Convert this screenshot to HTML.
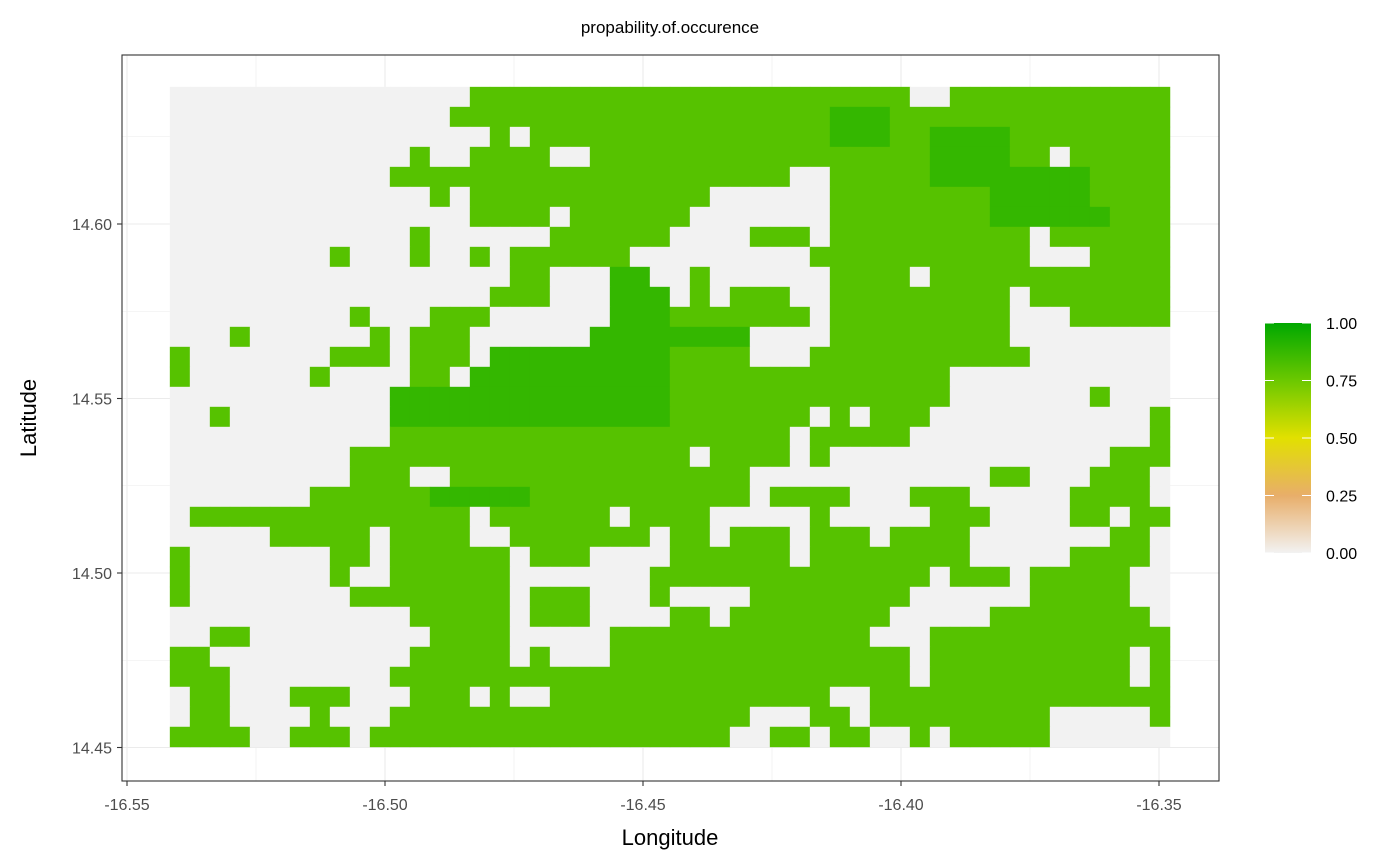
<!DOCTYPE html>
<html><head><meta charset="utf-8"><style>
html,body{margin:0;padding:0;background:#fff;}
svg{display:block;font-family:"Liberation Sans",Arial,sans-serif;}
</style></head><body>
<svg id="chart" width="1400" height="866" viewBox="0 0 1400 866">
<defs><linearGradient id="lg" x1="0" y1="1" x2="0" y2="0">
<stop offset="0" stop-color="#f2f2f2"/><stop offset="0.25" stop-color="#e8ae6a"/><stop offset="0.5" stop-color="#e2e000"/><stop offset="0.75" stop-color="#6cc800"/><stop offset="1" stop-color="#00a800"/></linearGradient></defs>
<text x="670" y="33" text-anchor="middle" font-size="17" fill="#000">propability.of.occurence</text>
<rect x="122" y="55" width="1097" height="726" fill="#fff"/>
<g id="grid"></g>
<g id="cells"></g>
<rect x="122" y="55" width="1097" height="726" fill="none" stroke="#333" stroke-width="1.1"/>
<g id="axes"></g>
<text x="670" y="845" text-anchor="middle" font-size="22" fill="#000">Longitude</text>
<text x="36" y="418" text-anchor="middle" font-size="22" fill="#000" transform="rotate(-90 36 418)">Latitude</text>
<g id="legend">
<rect x="1265" y="323" width="46" height="230" fill="url(#lg)"/>
</g>
</svg>
<script>
const xTicks=[-16.55,-16.50,-16.45,-16.40,-16.35];
const xTickLabels=["-16.55","-16.50","-16.45","-16.40","-16.35"];
const yTicks=[14.45,14.50,14.55,14.60];
const yTickLabels=["14.45","14.50","14.55","14.60"];
const legendValues=[0,0.25,0.5,0.75,1];
const legendLabels=["0.00","0.25","0.50","0.75","1.00"];
const lonStart=-16.5417;
const latTop=14.6393;
const lonStep=0.003876;
const latStep=0.00573;
const levelValues={".":0,"b":0.8,"c":0.88};
const gridRows=[
"...............bbbbbbbbbbbbbbbbbbbbbb..bbbbbbbbbbb",
"..............bbbbbbbbbbbbbbbbbbbcccbbbbbbbbbbbbbb",
"................b.bbbbbbbbbbbbbbbcccbbccccbbbbbbbb",
"............b..bbbb..bbbbbbbbbbbbbbbbbccccbb.bbbbb",
"...........bbbbbbbbbbbbbbbbbbbb..bbbbbccccccccbbbb",
".............b.bbbbbbbbbbbb......bbbbbbbbcccccbbbb",
"...............bbbb.bbbbbb.......bbbbbbbbccccccbbb",
"............b......bbbbbb....bbb.bbbbbbbbbb.bbbbbb",
"........b...b..b.bbbbbb.........bbbbbbbbbbb...bbbb",
".................bb...cc..b......bbbb.bbbbbbbbbbbb",
"................bbb...ccc.b.bbb..bbbbbbbbb.bbbbbbb",
".........b...bbb......cccbbbbbbb.bbbbbbbbb...bbbbb",
"...b......b.bbb......cccccccc....bbbbbbbbb........",
"b.......bbb.bbb.cccccccccbbbb...bbbbbbbbbbb.......",
"b......b....bb.ccccccccccbbbbbbbbbbbbbb...........",
"...........ccccccccccccccbbbbbbbbbbbbbb.......b...",
"..b........ccccccccccccccbbbbbbb.b.bbb...........b",
"...........bbbbbbbbbbbbbbbbbbbb.bbbbb............b",
".........bbbbbbbbbbbbbbbbb.bbbb.b..............bbb",
".........bbb..bbbbbbbbbbbbbbb............bb...bbb.",
".......bbbbbbcccccbbbbbbbbbbb.bbbb...bbb.....bbbb.",
".bbbbbbbbbbbbbb.bbbbbb.bbbb.....b.....bbb....bb.bb",
".....bbbbb.bbbb..bbbbbbb.bb.bbb.bbb.bbbb.......bb.",
"b.......bb.bbbbbb.bbb....bbbbbb.bbbbbbbb.....bbbb.",
"b.......b..bbbbbb.......bbbbbbbbbbbbbb.bbb.bbbbb..",
"b........bbbbbbbb.bbb...b....bbbbbbbb......bbbbb..",
"............bbbbb.bbb....bb.bbbbbbbb.....bbbbbbbb.",
"..bb.........bbbb.....bbbbbbbbbbbbb...bbbbbbbbbbbb",
"bb..........bbbbb.b...bbbbbbbbbbbbbbb.bbbbbbbbbb.b",
"bbb........bbbbbbbbbbbbbbbbbbbbbbbbbb.bbbbbbbbbb.b",
".bb...bbb...bbb.b..bbbbbbbbbbbbbb..bbbbbbbbbbbbbbb",
".bb....b...bbbbbbbbbbbbbbbbbb...bb.bbbbbbbbb.....b",
"bbbb..bbb.bbbbbbbbbbbbbbbbbb..bb.bb..b.bbbbb......."
];
const NS="http://www.w3.org/2000/svg";
function xScale(lon){return 127+(lon+16.55)*5160;}
function yScale(lat){return 224-(lat-14.60)*3490;}
const stops=[[0,[242,242,242]],[0.25,[232,174,106]],[0.5,[226,224,0]],[0.75,[108,200,0]],[1,[0,168,0]]];
function color(v){
  for(let i=1;i<stops.length;i++){
    if(v<=stops[i][0]){const a=stops[i-1],b=stops[i];const t=(v-a[0])/(b[0]-a[0]);
      const c=a[1].map((x,k)=>Math.round(x+(b[1][k]-x)*t));return `rgb(${c[0]},${c[1]},${c[2]})`;}
  }
  return "rgb(0,168,0)";
}
function mk(tag,attrs,parent){const e=document.createElementNS(NS,tag);for(const k in attrs)e.setAttribute(k,attrs[k]);parent.appendChild(e);return e;}
const grid=document.getElementById('grid');
for(let i=0;i<xTicks.length;i++){
  const x=xScale(xTicks[i]);
  const l=mk('line',{x1:x,x2:x,y1:55,y2:781,stroke:'#ebebeb','stroke-width':1.1},grid);
  
  
  if(i<xTicks.length-1){const xm=xScale((xTicks[i]+xTicks[i+1])/2);
    const m=mk('line',{x1:xm,x2:xm,y1:55,y2:781,stroke:'#ebebeb','stroke-width':0.6},grid);
    
    }
}
const yMinor=[14.425,14.475,14.525,14.575,14.625];
for(let i=0;i<yTicks.length;i++){
  const y=yScale(yTicks[i]);
  const l=mk('line',{x1:122,x2:1219,y1:y,y2:y,stroke:'#ebebeb','stroke-width':1.1},grid);
  
  
}
yMinor.forEach(v=>{const y=yScale(v);if(y>55&&y<781){
  const m=mk('line',{x1:122,x2:1219,y1:y,y2:y,stroke:'#ebebeb','stroke-width':0.6},grid);
  
  }});
const cells=document.getElementById('cells');
const nCols=50;
gridRows.forEach((row,r)=>{
  for(let c=0;c<nCols;c++){
    const ch=c<row.length?row[c]:'.';
    const v=levelValues[ch]||0;
    const x0=xScale(lonStart+c*lonStep),x1=xScale(lonStart+(c+1)*lonStep);
    const y0=yScale(latTop-r*latStep),y1=yScale(latTop-(r+1)*latStep);
    const rc=mk('rect',{x:x0,y:y0,width:x1-x0+0.4,height:y1-y0+0.4,fill:color(v)},cells);
    
    
  }
});
const axes=document.getElementById('axes');
xTicks.forEach((t,i)=>{
  const x=xScale(t);
  const tk=mk('line',{x1:x,x2:x,y1:781,y2:786,stroke:'#333','stroke-width':1.1},axes);
  
  
  const tx=mk('text',{x:x,y:810,'text-anchor':'middle','font-size':16,fill:'#4d4d4d'},axes);
  tx.textContent=xTickLabels[i];
  
  
});
yTicks.forEach((t,i)=>{
  const y=yScale(t);
  const tk=mk('line',{x1:117,x2:122,y1:y,y2:y,stroke:'#333','stroke-width':1.1},axes);
  
  
  const tx=mk('text',{x:112,y:y+6,'text-anchor':'end','font-size':16,fill:'#4d4d4d'},axes);
  tx.textContent=yTickLabels[i];
  
  
});
const legend=document.getElementById('legend');
legendValues.forEach((v,i)=>{
  const y=553-v*230;
  const a=mk('line',{x1:1265,x2:1274,y1:y,y2:y,stroke:'#fff','stroke-width':1},legend);
  
  
  const b=mk('line',{x1:1302,x2:1311,y1:y,y2:y,stroke:'#fff','stroke-width':1},legend);
  
  
  const tx=mk('text',{x:1326,y:y+6,'font-size':16,fill:'#000'},legend);
  tx.textContent=legendLabels[i];
  
  
});
</script>
</body></html>
